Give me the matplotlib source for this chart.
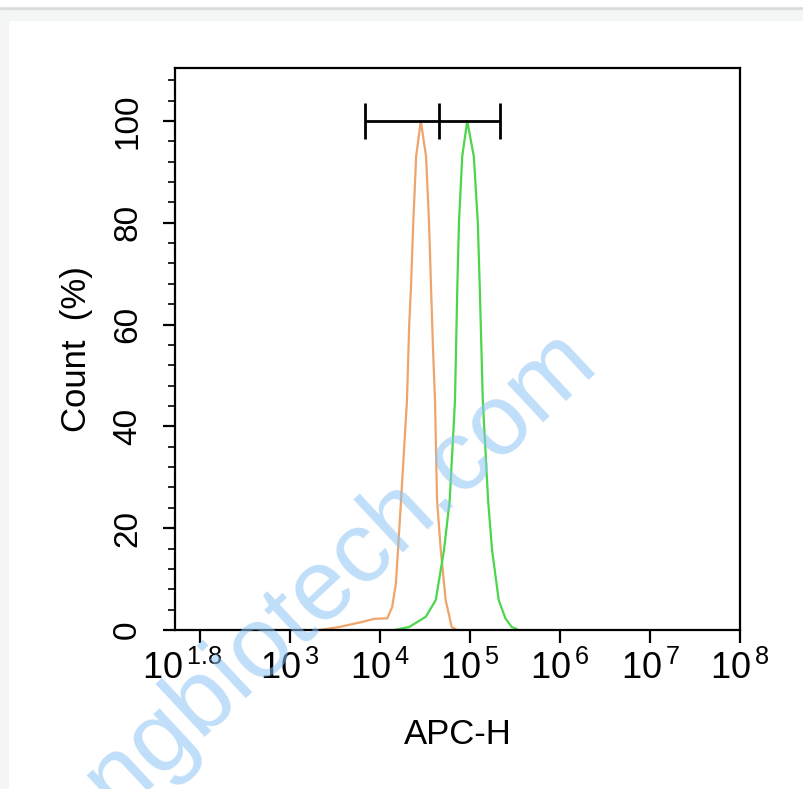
import matplotlib
matplotlib.use("Agg")
import matplotlib.pyplot as plt
from matplotlib.patches import Rectangle
from matplotlib.ticker import LogLocator, FixedLocator, NullFormatter
import numpy as np

plt.rcParams['font.family'] = ['Liberation Sans', 'DejaVu Sans']
plt.rcParams['mathtext.fontset'] = 'custom'
plt.rcParams['mathtext.rm'] = 'Liberation Sans'
plt.rcParams['mathtext.it'] = 'Liberation Sans'

# histogram traces (APC-H, count %)
orange_x = [2140, 3570, 6410, 8690, 12100, 13700, 15100, 17200, 20000, 21200,
            22100, 23500, 25300, 28500, 32600, 35200, 37100, 39000, 41000,
            43200, 47500, 53800, 62800, 71800]
orange_y = [0, 0.6, 1.6, 2.2, 2.3, 4.5, 9.2, 25.5, 45, 60,
            66.8, 80, 93, 100, 93, 80, 66.8, 55, 45,
            25.5, 15.7, 5.9, 0.6, 0]

green_x = [14500, 21200, 32400, 41800, 51600, 59700, 68300, 72400, 75600,
           82200, 93400, 110700, 122500, 129000, 139200, 159300, 176300,
           209000, 247800, 291000, 347600]
green_y = [0, 0.6, 2.6, 5.9, 15.7, 25.5, 45, 66.8, 80,
           93, 100, 93, 80, 66.8, 45, 25.5, 15.7,
           5.9, 2.3, 0.6, 0]

# gate marker
gate_x = [6900, 45700, 214000]
gate_y = 100

xtick_vals = [10**1.8, 1e2, 1e3, 1e4, 1e5, 1e6, 1e7, 1e8]
xtick_labels = [r'$10^{\,1.8}$', '', r'$10^{\,3}$', r'$10^{\,4}$', r'$10^{\,5}$',
                r'$10^{\,6}$', r'$10^{\,7}$', r'$10^{\,8}$']
ytick_vals = [0, 20, 40, 60, 80, 100]

fig = plt.figure(figsize=(8.04, 7.89), dpi=100)

# page background bits
fig.patches.append(Rectangle((0, 1 - 20/789), 1, 20/789, transform=fig.transFigure,
                             color='#f4f6f5', zorder=-10))
fig.patches.append(Rectangle((0, 1 - 9/789), 1, 3/789, transform=fig.transFigure,
                             color='#dcdcdc', zorder=-9))
fig.patches.append(Rectangle((0, 1 - 6/789), 1, 6/789, transform=fig.transFigure,
                             color='white', zorder=-9))
fig.patches.append(Rectangle((0, 0), 8/804, 1 - 20/789, transform=fig.transFigure,
                             color='#f4f6f5', zorder=-10))

ax = fig.add_axes([175/804, 1 - 630/789, 565/804, 562/789])
ax.set_xscale('log')

ax.plot(orange_x, orange_y, color='#eea46a', lw=1.6)
ax.plot(green_x, green_y, color='#4cd64c', lw=1.6)

ax.hlines(gate_y, gate_x[0], gate_x[-1], color='black', lw=2)
ax.vlines(gate_x, gate_y - 3.5, gate_y + 3.5, color='black', lw=2)

ax.set_xlim(10**1.725, 1e8)
ax.set_ylim(0, 110.4)

ax.xaxis.set_major_locator(FixedLocator(xtick_vals))
ax.set_xticklabels(xtick_labels)
ax.xaxis.set_minor_locator(LogLocator(base=10, subs=np.arange(2, 10)))
ax.xaxis.set_minor_formatter(NullFormatter())
ax.xaxis.get_major_ticks()[0].tick1line.set_visible(False)

ax.set_yticks(ytick_vals)
ax.set_yticks(np.arange(0, 111, 4), minor=True)
for lab in ax.get_yticklabels():
    lab.set_rotation(90)
    lab.set_va('center')

ax.tick_params(axis='both', which='major', direction='out', length=9, width=1.6,
               color='black')
ax.tick_params(axis='x', which='major', labelsize=26, pad=6)
ax.tick_params(axis='y', which='major', labelsize=24, pad=14)
ax.tick_params(axis='both', which='minor', direction='out', length=5, width=1.2)

for sp in ax.spines.values():
    sp.set_linewidth(1.6)

ax.set_xlabel('APC-H', fontsize=25, labelpad=22)
ax.set_ylabel('Count  (%)', fontsize=25, labelpad=14)

# watermark
fig.text(600/804, 1 - 366/789, 'zhongbiotech.com', fontsize=73, color='#8cc4f5',
         alpha=0.55, rotation=43, rotation_mode='anchor', ha='right', va='baseline',
         fontweight='medium', zorder=20)

fig.savefig('out.png', dpi=100)
